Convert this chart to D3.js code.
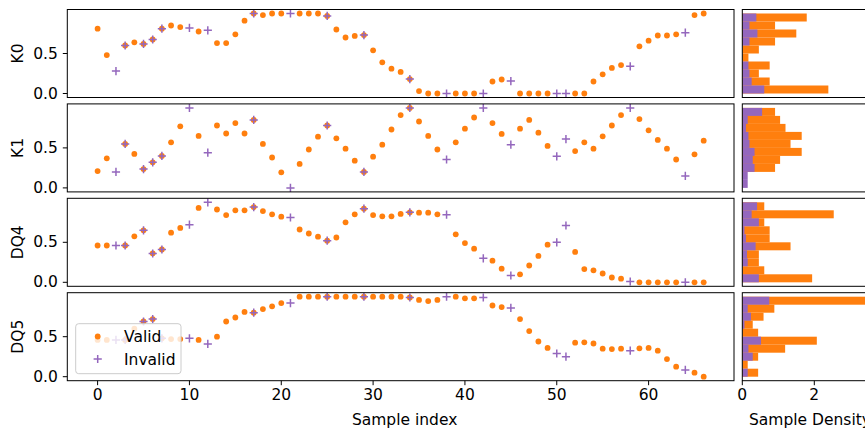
<!DOCTYPE html>
<html>
<head>
<meta charset="utf-8">
<script src="https://cdn.jsdelivr.net/npm/d3@7"></script>
<style>
  body { margin: 0; background: #fff; }
  svg { font-family: "DejaVu Sans", sans-serif; }
</style>
</head>
<body>
<div id="chart"></div>
<script>
// ---- data ----
const panelNames = ['K0', 'K1', 'DQ4', 'DQ5'];

const K0 = [0.81, 0.48, 0.28, 0.60, 0.64, 0.62, 0.675, 0.81, 0.85, 0.83,
  0.82, 0.775, 0.79, 0.63, 0.63, 0.74, 0.91, 1.0, 0.98, 1.0,
  1.0, 1.0, 1.0, 1.0, 1.0, 0.97, 0.80, 0.70, 0.72, 0.73,
  0.54, 0.39, 0.31, 0.27, 0.18, 0.03, 0, 0, 0, 0,
  0, 0, 0, 0.15, 0.175, 0.155, 0, 0, 0, 0,
  0, 0, 0, 0, 0.15, 0.24, 0.32, 0.355, 0.34, 0.59,
  0.66, 0.725, 0.725, 0.74, 0.76, 0.98, 1.0];

const K1 = [0.21, 0.37, 0.2, 0.55, 0.425, 0.235, 0.32, 0.40, 0.57, 0.77,
  1.0, 0.65, 0.44, 0.78, 0.68, 0.81, 0.68, 0.85, 0.55, 0.38,
  0.195, 0.0, 0.30, 0.48, 0.64, 0.78, 0.62, 0.49, 0.34, 0.2,
  0.39, 0.54, 0.73, 0.91, 1.0, 0.83, 0.65, 0.48, 0.355, 0.57,
  0.74, 0.88, 1.0, 0.81, 0.675, 0.54, 0.74, 0.85, 0.69, 0.525,
  0.395, 0.61, 0.46, 0.57, 0.49, 0.645, 0.78, 0.91, 1.0, 0.86,
  0.72, 0.6, 0.49, 0.355, 0.15, 0.42, 0.59];

const DQ4 = [0.46, 0.46, 0.46, 0.46, 0.575, 0.65, 0.36, 0.41, 0.62, 0.68,
  0.72, 0.93, 1.0, 0.91, 0.84, 0.9, 0.9, 0.94, 0.89, 0.85,
  0.82, 0.81, 0.66, 0.61, 0.57, 0.52, 0.56, 0.75, 0.85, 0.92,
  0.84, 0.825, 0.825, 0.855, 0.875, 0.87, 0.87, 0.85, 0.845, 0.6,
  0.49, 0.42, 0.3, 0.27, 0.17, 0.085, 0.1, 0.21, 0.33, 0.47,
  0.5, 0.71, 0.38, 0.165, 0.15, 0.11, 0.06, 0.045, 0.01, 0,
  0, 0, 0, 0, 0, 0, 0];

const DQ5 = [0.46, 0.46, 0.46, 0.46, 0.6, 0.69, 0.72, 0.48, 0.47, 0.47,
  0.48, 0.46, 0.41, 0.5, 0.69, 0.74, 0.81, 0.8, 0.845, 0.88,
  0.92, 0.92, 1.0, 1.0, 1.0, 1.0, 1.0, 1.0, 1.0, 1.0,
  1.0, 1.0, 1.0, 1.0, 0.99, 0.96, 0.945, 0.96, 1.0, 1.0,
  0.98, 0.98, 0.99, 0.89, 0.87, 0.86, 0.72, 0.57, 0.44, 0.36,
  0.29, 0.25, 0.425, 0.43, 0.415, 0.35, 0.345, 0.35, 0.325, 0.355,
  0.36, 0.325, 0.22, 0.125, 0.085, 0.05, 0.0];

// samples flagged invalid; some of them are only drawn as invalid
const invalidIdx = [2, 3, 5, 6, 7, 10, 12, 17, 21, 25, 29, 34, 38, 42, 45, 50, 51, 58, 64];
const invalidOnlyIdx = [2, 10, 12, 21, 38, 42, 45, 50, 51, 58, 64];

// histogram densities, bins 0.0-0.1 ... 0.9-1.0 (bottom to top)
const binEdges = [0, 0.1, 0.2, 0.3, 0.4, 0.5, 0.6, 0.7, 0.8, 0.9, 1.0];
const K0HistValid = [2.39, 0.76, 0.46, 0.76, 0.17, 0.46, 0.91, 1.5, 0.91, 1.79];
const K0HistInvalid = [0.61, 0.26, 0.2, 0.17, 0, 0, 0.2, 0.42, 0.2, 0.39];
const K1HistValid = [0, 0, 0.91, 1.05, 1.65, 1.34, 1.65, 1.2, 1.05, 0.91];
const K1HistInvalid = [0.15, 0.15, 0.34, 0.29, 0.34, 0.2, 0.17, 0.1, 0.15, 0.55];
const DQ4HistValid = [1.94, 0.61, 0.46, 0.46, 1.34, 0.76, 0.76, 0.61, 2.54, 0.61];
const DQ4HistInvalid = [0.46, 0, 0.15, 0.13, 0.37, 0.1, 0.06, 0.46, 0.26, 0.41];
const DQ5HistValid = [0.44, 0.15, 0.44, 1.19, 2.07, 0.44, 0.29, 0.59, 0.89, 3.5];
const DQ5HistInvalid = [0.15, 0, 0.29, 0.17, 0.52, 0, 0.06, 0.24, 0.15, 0.75];

const xTicks = [0, 10, 20, 30, 40, 50, 60];
const yTicks = [0, 0.5];
const densityTicks = [0, 2];

const values = [K0, K1, DQ4, DQ5];
const histValid = [K0HistValid, K1HistValid, DQ4HistValid, DQ5HistValid];
const histInvalid = [K0HistInvalid, K1HistInvalid, DQ4HistInvalid, DQ5HistInvalid];

// ---- layout ----
const W = 865, H = 430;
const axLeft = 67.3, axRight = 734;
const histLeft = 742.3;
const rowTop = 9.5, rowH = 88, rowStep = 94.4;
const ORANGE = '#ff7f0e', PURPLE = '#9467bd';
const FONT = 15.5, TICK = 4.5, PAD = 5;

const svg = d3.select('#chart').append('svg')
  .attr('width', W).attr('height', H);

const x = d3.scaleLinear().domain([-3.3, 69.3]).range([axLeft, axRight]);
const maxDensity = d3.max(histValid.flat());
const hx = d3.scaleLinear().domain([0, maxDensity * 1.05]).range([histLeft, histLeft + maxDensity * 1.05 * 36]);

const plusPath = 'M-4.1,0H4.1M0,-4.1V4.1';

values.forEach((vals, p) => {
  const top = rowTop + p * rowStep;
  const y = d3.scaleLinear().domain([-0.05, 1.05]).range([top + rowH, top]);

  svg.append('clipPath').attr('id', 'clip' + p)
    .append('rect').attr('x', axLeft).attr('y', top).attr('width', axRight - axLeft).attr('height', rowH);

  const g = svg.append('g').attr('clip-path', `url(#clip${p})`);

  const validPts = vals.map((v, i) => ({ i, v })).filter(d => !invalidOnlyIdx.includes(d.i));
  const invalidPts = invalidIdx.map(i => ({ i, v: vals[i] }));

  g.selectAll('circle').data(validPts).join('circle')
    .attr('cx', d => x(d.i)).attr('cy', d => y(d.v)).attr('r', 2.9)
    .attr('fill', ORANGE);

  g.selectAll('path.inv').data(invalidPts).join('path')
    .attr('class', 'inv')
    .attr('transform', d => `translate(${x(d.i)},${y(d.v)})`)
    .attr('d', plusPath)
    .attr('stroke', PURPLE).attr('stroke-width', 1.5).attr('fill', 'none');

  // y ticks
  const yt = svg.append('g');
  yTicks.forEach(t => {
    yt.append('line').attr('x1', axLeft - TICK).attr('x2', axLeft)
      .attr('y1', y(t)).attr('y2', y(t)).attr('stroke', '#000').attr('stroke-width', 1);
    yt.append('text').attr('x', axLeft - TICK - PAD).attr('y', y(t))
      .attr('text-anchor', 'end').attr('dominant-baseline', 'central')
      .attr('font-size', FONT).text(d3.format('.1f')(t));
  });

  svg.append('text')
    .attr('transform', `translate(18,${top + rowH / 2}) rotate(-90)`)
    .attr('text-anchor', 'middle').attr('dominant-baseline', 'central')
    .attr('font-size', FONT).text(panelNames[p]);

  svg.append('rect').attr('x', axLeft).attr('y', top)
    .attr('width', axRight - axLeft).attr('height', rowH)
    .attr('fill', 'none').attr('stroke', '#000').attr('stroke-width', 1);

  // histogram panel
  svg.append('clipPath').attr('id', 'hclip' + p)
    .append('rect').attr('x', histLeft).attr('y', top).attr('width', hx.range()[1] - histLeft).attr('height', rowH);
  const hg = svg.append('g').attr('clip-path', `url(#hclip${p})`);

  const bins = d3.range(10);
  hg.selectAll('rect.valid').data(bins).join('rect')
    .attr('class', 'valid')
    .attr('x', hx(0)).attr('y', b => y(binEdges[b + 1]))
    .attr('width', b => hx(histValid[p][b]) - hx(0))
    .attr('height', b => y(binEdges[b]) - y(binEdges[b + 1]))
    .attr('fill', ORANGE);
  hg.selectAll('rect.invalid').data(bins).join('rect')
    .attr('class', 'invalid')
    .attr('x', hx(0)).attr('y', b => y(binEdges[b + 1]))
    .attr('width', b => hx(histInvalid[p][b]) - hx(0))
    .attr('height', b => y(binEdges[b]) - y(binEdges[b + 1]))
    .attr('fill', PURPLE);

  svg.append('rect').attr('x', histLeft).attr('y', top)
    .attr('width', hx.range()[1] - histLeft).attr('height', rowH)
    .attr('fill', 'none').attr('stroke', '#000').attr('stroke-width', 1);
});

// bottom axes
const bottom = rowTop + 3 * rowStep + rowH;
xTicks.forEach(t => {
  svg.append('line').attr('x1', x(t)).attr('x2', x(t))
    .attr('y1', bottom).attr('y2', bottom + TICK).attr('stroke', '#000');
  svg.append('text').attr('x', x(t)).attr('y', bottom + TICK + PAD - 1)
    .attr('text-anchor', 'middle').attr('dominant-baseline', 'hanging')
    .attr('font-size', FONT).text(t);
});
svg.append('text').attr('x', (axLeft + axRight) / 2 + 4).attr('y', 420)
  .attr('text-anchor', 'middle').attr('dominant-baseline', 'central')
  .attr('font-size', FONT).text('Sample index');

densityTicks.forEach(t => {
  svg.append('line').attr('x1', hx(t)).attr('x2', hx(t))
    .attr('y1', bottom).attr('y2', bottom + TICK).attr('stroke', '#000');
  svg.append('text').attr('x', hx(t)).attr('y', bottom + TICK + PAD - 1)
    .attr('text-anchor', 'middle').attr('dominant-baseline', 'hanging')
    .attr('font-size', FONT).text(t);
});
svg.append('text').attr('x', 749).attr('y', 420)
  .attr('text-anchor', 'start').attr('dominant-baseline', 'central')
  .attr('font-size', FONT).text('Sample Density');

// legend in the last panel
const lg = svg.append('g');
lg.append('rect').attr('x', 75.7).attr('y', 323.7).attr('width', 105.3).attr('height', 50)
  .attr('rx', 3).attr('fill', '#fff').attr('fill-opacity', 0.8)
  .attr('stroke', '#ccc').attr('stroke-width', 1);
lg.append('circle').attr('cx', 97.7).attr('cy', 336.5).attr('r', 2.9).attr('fill', ORANGE);
lg.append('path').attr('transform', 'translate(97.7,359)').attr('d', plusPath)
  .attr('stroke', PURPLE).attr('stroke-width', 1.5).attr('fill', 'none');
lg.append('text').attr('x', 124).attr('y', 337).attr('dominant-baseline', 'central')
  .attr('font-size', FONT).text('Valid');
lg.append('text').attr('x', 124).attr('y', 359.5).attr('dominant-baseline', 'central')
  .attr('font-size', FONT).text('Invalid');
</script>
</body>
</html>
